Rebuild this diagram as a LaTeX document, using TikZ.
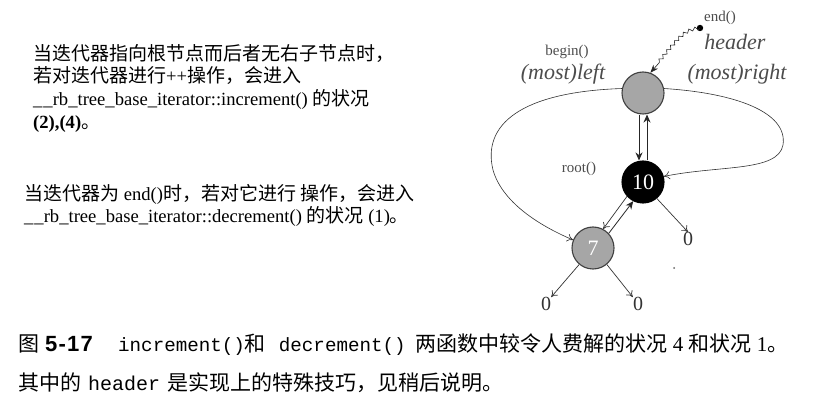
\documentclass[tikz,border=0pt]{standalone}
\usepackage{fontspec}
\setmainfont{Liberation Serif}
\setmonofont{Liberation Mono}
\newfontfamily\cjk{Noto Sans CJK SC}
\newfontfamily\hsans{Liberation Sans}
\usetikzlibrary{arrows.meta,decorations.pathmorphing}
\begin{document}
\begin{tikzpicture}[x=1pt,y=-1pt,
  graynode/.style={circle,draw=black!75,line width=1.1pt,fill=black!35,minimum size=42pt,inner sep=0pt,text=white,font=\fontsize{22}{22}\selectfont},
  blacknode/.style={circle,draw=black,line width=1.1pt,fill=black,minimum size=42pt,inner sep=0pt,text=white,font=\fontsize{22}{22}\selectfont},
  leaf/.style={inner sep=0pt,font=\fontsize{20}{20}\selectfont,text=black!80},
  lbl/.style={inner sep=0pt,text=black!70,font=\fontsize{15}{15}\selectfont},
  ital/.style={inner sep=0pt,text=black!70,font=\fontsize{22}{22}\selectfont\itshape},
  txt/.style={inner sep=0pt,anchor=base west,font=\fontsize{18.6}{18.6}\selectfont},
  captxt/.style={inner sep=0pt,anchor=base west,font=\fontsize{21}{21}\selectfont},
  arr/.style={-{To[length=6pt,width=8pt]},line width=0.7pt,black!80},
  varr/.style={-{Stealth[length=8pt,width=7pt]},line width=0.8pt,black!85}
]
\useasboundingbox (0,0) rectangle (838,403);
\fill[white] (0,0) rectangle (838,403);

% left text
\node[txt] (t1) at (33,61) {\cjk\fontsize{19}{19}\selectfont 当迭代器指向根节点而后者无右子节点时，};
\node[txt] (t2) at (33,83) {{\cjk\fontsize{19}{19}\selectfont 若对迭代器进行}++{\cjk\fontsize{19}{19}\selectfont 操作，会进入}};
\node[txt] (t3) at (33,106) {\_\kern1pt\_rb\_tree\_base\_iterator::increment() {\cjk\fontsize{19}{19}\selectfont 的状况}};
\node[txt] (t4) at (33,129) {\textbf{(2),(4)}{\cjk\fontsize{19}{19}\selectfont 。}};
\node[txt] (t5) at (24,201) {{\cjk\fontsize{19}{19}\selectfont 当迭代器为} end(){\cjk\fontsize{19}{19}\selectfont 时，若对它进行 操作，会进入}};
\node[txt] (t6) at (24,223) {\_\kern1pt\_rb\_tree\_base\_iterator::decrement() {\cjk\fontsize{19}{19}\selectfont 的状况} (1){\cjk\fontsize{19}{19}\selectfont 。}};

% caption
\node[captxt] (c1) at (18,352) {{\cjk 图}\hspace{6pt}\makebox[55pt][l]{\hsans\bfseries\fontsize{22}{22}\selectfont 5\kern1.2pt-\kern1.2pt1\kern1.2pt7}\hspace{18pt}{\ttfamily\fontsize{19.2}{19.2}\selectfont increment()}{\cjk 和}\hspace{13pt}{\ttfamily\fontsize{19.2}{19.2}\selectfont decrement()}\hspace{10pt}{\cjk 两函数中较令人费解的状况} 4 {\cjk 和状况} 1{\cjk 。}};
\node[captxt] (c2) at (18,390) {{\cjk 其中的}\hspace{7pt}{\ttfamily\fontsize{20}{20}\selectfont header}\hspace{7pt}{\cjk 是实现上的特殊技巧，见稍后说明。}};

% tree nodes
\node[graynode] (hdr) at (643,93) {};
\node[blacknode] (ten) at (643,182) {10};
\node[graynode] (seven) at (593,248) {7};
\node[leaf] (z1) at (688,239) {0};
\node[leaf] (z2) at (546,304) {0};
\node[leaf] (z3) at (638,304) {0};
\fill (700,28) circle (3.2pt) coordinate (enddot);
\fill[black!60] (674,268) circle (1pt);

% labels
\node[lbl] (lend) at (720,18) {end()};
\node[ital] (lhdr) at (735,42) {header};
\node[lbl] (lbeg) at (567,52) {begin()};
\node[ital] (lleft) at (563,74) {(most)left};
\node[ital] (lright) at (737,74) {(most)right};
\node[lbl] (lroot) at (579,169) {root()};

% connectors
\draw[varr] ([xshift=-4pt]hdr.south) -- ([xshift=-4pt]ten.north);
\draw[varr] ([xshift=4pt]ten.north) -- ([xshift=4pt]hdr.south);
\draw[arr] (ten.222) -- (seven.62);
\draw[varr] (seven.43) -- (ten.243);
\draw[arr] (ten.-50) -- (z1.north);
\draw[arr] (seven.-130) -- (z2.north east);
\draw[arr] (seven.-50) -- (z3.north west);
\draw[arr,line width=0.6pt] (hdr.168) .. controls (520,92) and (482,125) .. (493,170) .. controls (503,205) and (545,228) .. (seven.158);
\draw[arr,line width=0.6pt] (hdr.12) .. controls (735,93) and (788,112) .. (783,145) .. controls (778,172) and (720,165) .. (ten.15);
\draw[line width=0.6pt,black!85,-{Stealth[length=8pt,width=6pt]},decorate,decoration={snake,amplitude=1.6pt,segment length=6pt,post length=12pt}] (enddot) .. controls (682,30) and (678,42) .. (hdr.70);
\end{tikzpicture}
\end{document}
